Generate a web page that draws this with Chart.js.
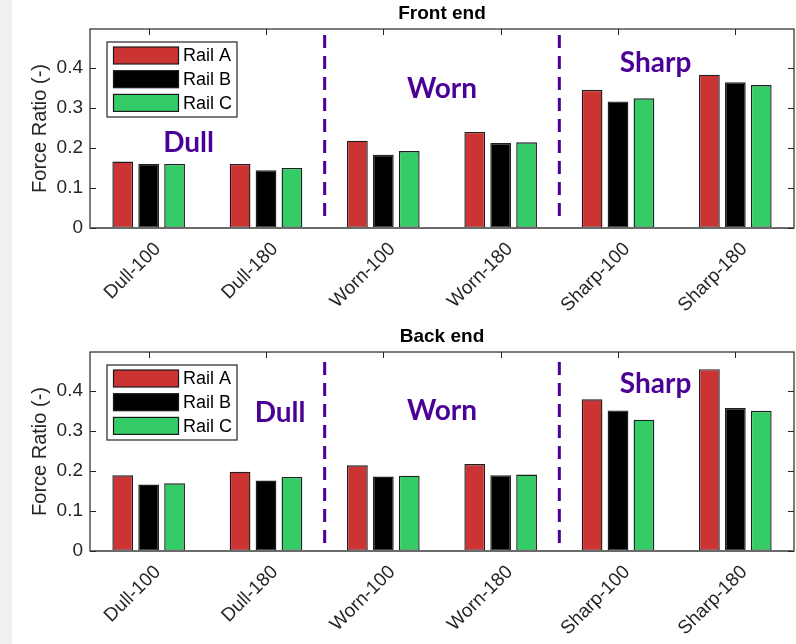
<!DOCTYPE html>
<html>
<head>
<meta charset="utf-8">
<script src="https://cdn.jsdelivr.net/npm/chart.js@4.4.1/dist/chart.umd.min.js"></script>
<style>
  html, body { margin: 0; padding: 0; background: #ffffff; }
  body { width: 796px; height: 644px; position: relative; overflow: hidden; }
  #strip { position: absolute; left: 0; top: 0; width: 12px; height: 644px; background: #f0f0f0; }
  .panel { position: absolute; left: 0; width: 796px; height: 322px; }
</style>
</head>
<body>
<div id="strip"></div>
<div class="panel" style="top:0px"><canvas id="front"></canvas></div>
<div class="panel" style="top:323px"><canvas id="back"></canvas></div>
<script>
// Test conditions and series
const categories = ['Dull-100', 'Dull-180', 'Worn-100', 'Worn-180', 'Sharp-100', 'Sharp-180'];
const railNames = ['Rail A', 'Rail B', 'Rail C'];
const railColors = ['#cc3333', '#000000', '#33cc66'];

const frontRailA = [0.166, 0.160, 0.218, 0.240, 0.345, 0.383];
const frontRailB = [0.160, 0.144, 0.183, 0.212, 0.316, 0.364];
const frontRailC = [0.160, 0.150, 0.192, 0.214, 0.324, 0.357];

const backRailA = [0.189, 0.198, 0.214, 0.217, 0.379, 0.454];
const backRailB = [0.166, 0.176, 0.186, 0.189, 0.351, 0.357];
const backRailC = [0.169, 0.185, 0.188, 0.191, 0.328, 0.350];

// Y axis range and labelled ticks
const yTickValues = [0, 0.1, 0.2, 0.3, 0.4];
const yMax = 0.497;

// Wear-state group labels (x in category index, y = text baseline in data units)
const frontGroups = [
  { text: 'Dull',  x: 0.34, y: 0.190 },
  { text: 'Worn',  x: 2.50, y: 0.325 },
  { text: 'Sharp', x: 4.32, y: 0.390 }
];
const backGroups = [
  { text: 'Dull',  x: 1.12, y: 0.322 },
  { text: 'Worn',  x: 2.50, y: 0.327 },
  { text: 'Sharp', x: 4.32, y: 0.394 }
];
// Dashed separators between wear states
const separatorsAt = [1.5, 3.5];
const frontSeparatorSpan = [0.028, 0.482];
const backSeparatorSpan = [0.015, 0.472];

const AXIS_COLOR = '#262626';
const GROUP_COLOR = '#4b0096';
const BASE_FONT = "'Liberation Sans', Arial, sans-serif";

// Box, inward ticks, separators, group labels, title and legend
const decorPlugin = {
  id: 'decor',
  afterDatasetsDraw(chart, args, opts) {
    const { ctx, chartArea: a, scales: { x, y } } = chart;
    ctx.save();

    // dashed separators
    ctx.strokeStyle = GROUP_COLOR;
    ctx.lineWidth = 3;
    ctx.setLineDash([13, 8]);
    opts.separators.forEach(s => {
      const px = x.getPixelForValue(s);
      ctx.beginPath();
      ctx.moveTo(px, y.getPixelForValue(opts.separatorSpan[1]));
      ctx.lineTo(px, y.getPixelForValue(opts.separatorSpan[0]));
      ctx.stroke();
    });
    ctx.setLineDash([]);

    // group labels
    ctx.fillStyle = GROUP_COLOR;
    ctx.font = "bold 28px Lato, 'Open Sans', sans-serif";
    ctx.textAlign = 'center';
    ctx.textBaseline = 'alphabetic';
    opts.groups.forEach(g => {
      ctx.fillText(g.text, x.getPixelForValue(g.x), y.getPixelForValue(g.y));
    });

    // axes box
    ctx.strokeStyle = AXIS_COLOR;
    ctx.lineWidth = 1.2;
    ctx.strokeRect(a.left, a.top, a.right - a.left, a.bottom - a.top);
    ctx.strokeStyle = '#6a6a6a';
    ctx.lineWidth = 2;
    ctx.beginPath();
    ctx.moveTo(a.left, a.bottom); ctx.lineTo(a.right, a.bottom);
    ctx.stroke();

    // inward tick marks
    const tl = 6;
    ctx.strokeStyle = AXIS_COLOR;
    ctx.lineWidth = 1;
    ctx.beginPath();
    y.ticks.forEach(t => {
      const py = Math.round(y.getPixelForValue(t.value)) + 0.5;
      ctx.moveTo(a.left, py); ctx.lineTo(a.left + tl, py);
      ctx.moveTo(a.right, py); ctx.lineTo(a.right - tl, py);
    });
    x.ticks.forEach((t, i) => {
      const px = Math.round(x.getPixelForTick(i)) + 0.5;
      ctx.moveTo(px, a.top); ctx.lineTo(px, a.top + tl);
    });
    ctx.stroke();

    // panel title
    ctx.fillStyle = '#000000';
    ctx.font = 'bold 19px ' + BASE_FONT;
    ctx.textAlign = 'center';
    ctx.textBaseline = 'middle';
    ctx.fillText(opts.title, (a.left + a.right) / 2, a.top - 15);

    // legend
    const lx = a.left + 17, ly = a.top + 13, lw = 130, lh = 75;
    ctx.fillStyle = '#ffffff';
    ctx.fillRect(lx, ly, lw, lh);
    ctx.strokeStyle = AXIS_COLOR;
    ctx.lineWidth = 1.2;
    ctx.strokeRect(lx, ly, lw, lh);
    ctx.font = '18px ' + BASE_FONT;
    ctx.textAlign = 'left';
    ctx.textBaseline = 'middle';
    chart.data.datasets.forEach((ds, i) => {
      const cy = ly + 13.5 + i * 23.7;
      ctx.fillStyle = ds.backgroundColor;
      ctx.fillRect(lx + 6.5, cy - 8.5, 65, 17);
      ctx.strokeStyle = '#1a1a1a';
      ctx.lineWidth = 1.2;
      ctx.strokeRect(lx + 6.5, cy - 8.5, 65, 17);
      ctx.fillStyle = '#000000';
      ctx.fillText(ds.label, lx + 76, cy + 1);
    });

    ctx.restore();
  }
};

function makeChart(canvasId, title, seriesList, groups, separatorSpan) {
  const datasets = seriesList.map((values, i) => ({
    label: railNames[i],
    data: values,
    backgroundColor: railColors[i],
    borderColor: '#1f1f1f',
    borderWidth: 1.4,
    borderSkipped: false,
    categoryPercentage: 0.663,
    barPercentage: 0.8
  }));

  return new Chart(document.getElementById(canvasId), {
    type: 'bar',
    data: { labels: categories, datasets },
    options: {
      responsive: true,
      maintainAspectRatio: false,
      animation: false,
      layout: { padding: { top: 29, right: 2, left: 0, bottom: 0 } },
      plugins: {
        legend: { display: false },
        title: { display: false },
        tooltip: { enabled: false },
        decor: { title, groups, separators: separatorsAt, separatorSpan }
      },
      scales: {
        x: {
          grid: { display: false, drawTicks: false },
          border: { display: false },
          ticks: {
            autoSkip: false,
            minRotation: 45,
            maxRotation: 45,
            padding: 10,
            labelOffset: 9,
            color: AXIS_COLOR,
            font: { family: BASE_FONT, size: 19 }
          },
          afterFit(scale) { scale.height = 94; }
        },
        y: {
          min: 0,
          max: yMax,
          grid: { display: false, drawTicks: false },
          border: { display: false },
          afterBuildTicks(scale) {
            scale.ticks = yTickValues.map(v => ({ value: v }));
          },
          ticks: {
            padding: 7,
            color: AXIS_COLOR,
            font: { family: BASE_FONT, size: 19 },
            callback: v => String(Math.round(v * 10) / 10)
          },
          title: {
            display: true,
            text: 'Force Ratio (-)',
            color: AXIS_COLOR,
            font: { family: BASE_FONT, size: 20 },
            padding: { top: 28, bottom: 0 }
          },
          afterFit(scale) { scale.width = 90; }
        }
      }
    },
    plugins: [decorPlugin]
  });
}

makeChart('front', 'Front end', [frontRailA, frontRailB, frontRailC], frontGroups, frontSeparatorSpan);
makeChart('back', 'Back end', [backRailA, backRailB, backRailC], backGroups, backSeparatorSpan);
</script>
</body>
</html>
